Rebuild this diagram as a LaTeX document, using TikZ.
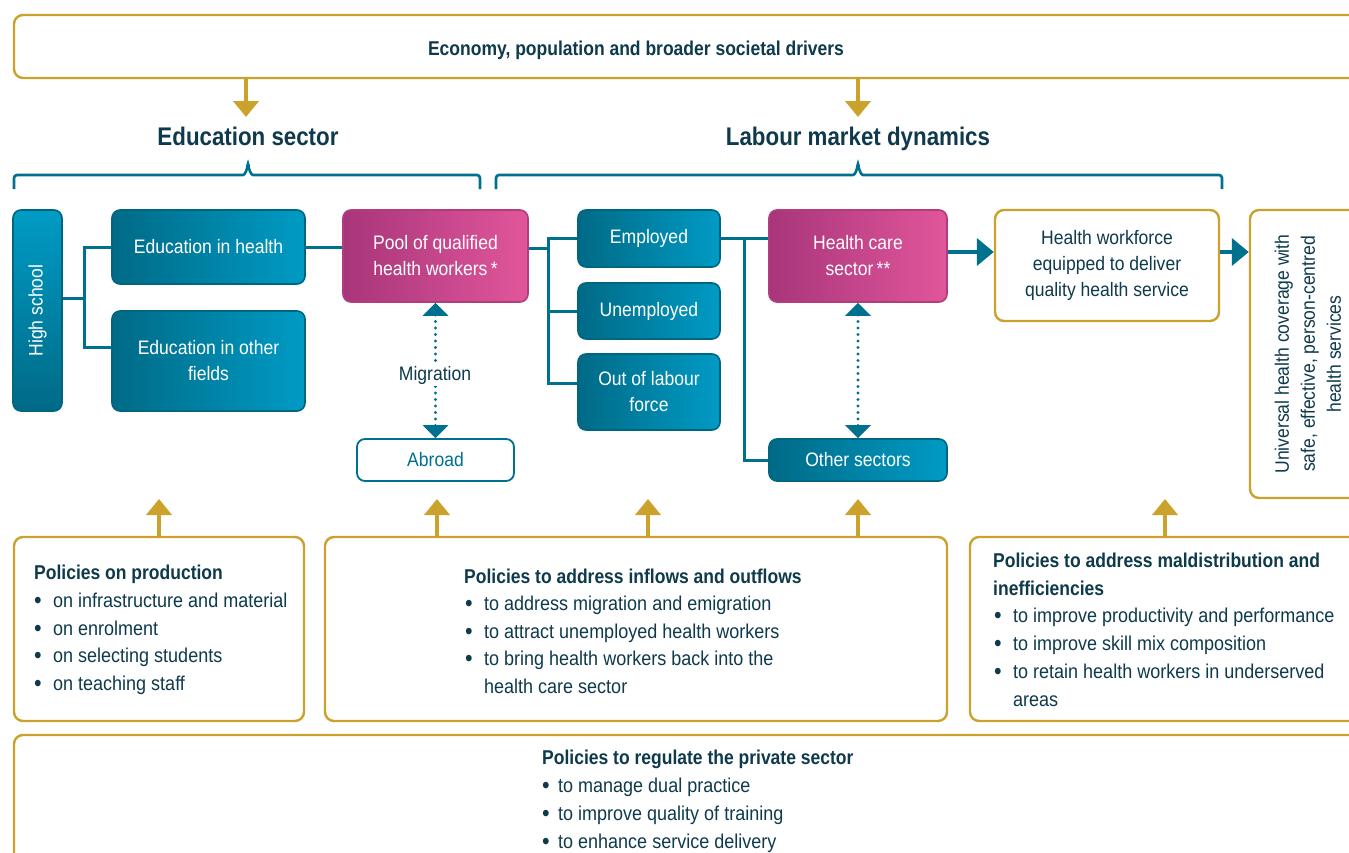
\documentclass[tikz,border=0pt]{standalone}
\usepackage{fontspec}
\setmainfont{Liberation Sans}[FakeStretch=0.9, BoldFeatures={FakeStretch=0.875}]
\usetikzlibrary{arrows.meta}
\definecolor{tealL}{HTML}{00708F}
\definecolor{tealA}{HTML}{006A86}
\definecolor{tealC}{HTML}{009BC5}
\definecolor{tealB}{HTML}{006580}
\definecolor{magA}{HTML}{A8357A}
\definecolor{magC}{HTML}{E1569B}
\definecolor{magB}{HTML}{B13D80}
\definecolor{gold}{HTML}{CBA22B}
\definecolor{dark}{HTML}{0E3A4C}
\newcommand\bxf{\fontsize{19.5}{26}\selectfont}
\newcommand\txf{\fontsize{20}{24}\selectfont}
\newcommand\itm{\makebox[19pt][l]{\raisebox{-1.3pt}{\scalebox{1.2}{•}}}}
\newcommand\itn{\makebox[19pt][l]{}}
\newcommand\itp{\makebox[16pt][l]{\raisebox{-1.3pt}{\scalebox{1.2}{•}}}}
\begin{document}
\begin{tikzpicture}[x=1pt,y=-1pt,
  tealbox/.style={draw=tealB, line width=1.6pt, rounded corners=8pt, left color=tealA, right color=tealC, text=white, font=\bxf, align=center, inner sep=0pt},
  magbox/.style={draw=magB, line width=1.6pt, rounded corners=8pt, left color=magA, right color=magC, text=white, font=\bxf, align=center, inner sep=0pt},
  whitebox/.style={draw=tealL, line width=1.8pt, rounded corners=8pt, fill=white, text=tealL, font=\bxf, align=center, inner sep=0pt},
  goldbox/.style={draw=gold, line width=2.4pt, rounded corners=9pt, fill=white, text=dark, font=\bxf, align=center, inner sep=0pt},
  conn/.style={draw=tealL, line width=3pt},
  garrow/.style={draw=gold, line width=4.5pt, -{Triangle[length=16pt,width=25pt]}},
  tarrow/.style={draw=tealL, line width=4pt, -{Triangle[length=17pt,width=27pt]}},
  dotarr/.style={draw=tealL, line width=3.2pt, dash pattern=on 0pt off 6.5pt, line cap=round, {Triangle[length=13pt,width=25pt]}-{Triangle[length=13pt,width=25pt]}},
  brace/.style={draw=tealL, line width=2.6pt, rounded corners=3pt},
  txt/.style={text=dark, font=\txf, anchor=base west, inner sep=0pt},
  ttl/.style={text=dark, font=\txf\bfseries, anchor=base west, inner sep=0pt},
  head/.style={text=dark, font=\fontsize{25.5}{28}\selectfont\bfseries, inner sep=0pt, anchor=base}
]
\useasboundingbox (0,0) rectangle (1349,852);
\clip (0,0) rectangle (1349,852);
\fill[white] (0,0) rectangle (1349,852);

% top drivers box
\node[goldbox, minimum width=1380pt, minimum height=63pt] (drivers) at (704,46.5) {};
\node[text=dark, font=\fontsize{20}{22}\selectfont\bfseries, inner sep=0pt, anchor=base] (driverst) at (636,55) {Economy, population and broader societal drivers};
\coordinate (edtip) at (246,117);
\coordinate (lbtip) at (858,117);
\draw[garrow] (drivers.south -| edtip) -- (edtip);
\draw[garrow] (drivers.south -| lbtip) -- (lbtip);
\node[head] (edh) at (248,145) {Education sector};
\node[head] (lbh) at (858,145) {Labour market dynamics};

% braces
\draw[brace] (14,189) -- (14,175) -- (240,175) .. controls (245,175) and (247,170) .. (248,162) .. controls (249,170) and (251,175) .. (256,175) -- (480,175) -- (480,189);
\draw[brace] (496,189) -- (496,175) -- (850,175) .. controls (855,175) and (857,170) .. (858,162) .. controls (859,170) and (861,175) .. (866,175) -- (1222,175) -- (1222,189);

% education boxes
\node[tealbox, minimum width=49pt, minimum height=201pt, top color=tealC, bottom color=tealA, shading angle=0] (hs) at (37.5,310.5) {};
\node[rotate=90, text=white, font=\bxf, inner sep=0pt] (hst) at (hs.center) {High school};
\node[tealbox, minimum width=193pt, minimum height=74pt] (eh) at (208.5,247) {Education in health};
\node[tealbox, minimum width=193pt, minimum height=100pt] (eo) at (208.5,361) {Education in other\\fields};
\node[magbox, minimum width=185pt, minimum height=92pt] (pool) at (435.5,256) {Pool of qualified\\health workers\,*};
\node[whitebox, minimum width=157pt, minimum height=42pt] (abroad) at (435.5,460) {Abroad};

% labour boxes
\node[tealbox, minimum width=142pt, minimum height=57pt] (emp) at (649,238.5) {Employed};
\node[tealbox, minimum width=142pt, minimum height=56pt] (unemp) at (649,311) {Unemployed};
\node[tealbox, minimum width=142pt, minimum height=76pt] (out) at (649,392) {Out of labour\\force};
\node[magbox, minimum width=178pt, minimum height=92pt] (hcs) at (858,256) {Health care\\sector\,**};
\node[tealbox, minimum width=178pt, minimum height=42pt] (other) at (858,460) {Other sectors};
\node[goldbox, minimum width=224pt, minimum height=111pt] (hw) at (1107,265.5) {Health workforce\\equipped to deliver\\quality health service};
\node[goldbox, minimum width=130pt, minimum height=288pt] (uhc) at (1315,354) {};
\node[rotate=90, text=dark, font=\bxf, align=center, inner sep=0pt] (uhct) at (1308,354) {Universal health coverage with\\safe, effective, person-centred\\health services};

% connectors education
\coordinate (j1) at (84,298);
\draw[conn] (hs.east |- j1) -- (j1);
\draw[conn] (eh.west) -| (j1) |- ([yshift=14pt]eo.west);
\draw[conn] (eh.east) -- (pool.west |- eh.east);
% connectors labour
\coordinate (j2) at (548,248);
\draw[conn] (pool.east |- j2) -- (j2);
\draw[conn] (emp.west) -| (j2) |- ([yshift=9pt]out.west);
\draw[conn] (unemp.west) -- (unemp.west -| j2);
\coordinate (j3) at (744,238.5);
\draw[conn] (emp.east) -- (hcs.west |- emp.east);
\draw[conn] (j3) |- (other.west);
% arrows
\draw[tarrow] ([yshift=4pt]hcs.east) -- ([yshift=4pt]hcs.east -| hw.west);
\draw[tarrow] (hw.east |- 0,252) -- (uhc.west |- 0,252);
% migration
\draw[dotarr] (pool.south) -- (abroad.north);
\node[fill=white, text=dark, font=\bxf, inner sep=2pt] (mig) at (435,375) {Migration};
\draw[dotarr] (hcs.south) -- (other.north);

% policy boxes
\node[goldbox, minimum width=290pt, minimum height=184pt] (p1) at (159,629) {};
\node[goldbox, minimum width=622pt, minimum height=184pt] (p2) at (636,629) {};
\node[goldbox, minimum width=420pt, minimum height=184pt] (p3) at (1180,629) {};
\node[goldbox, minimum width=1380pt, minimum height=150pt] (p4) at (704,810) {};

\coordinate (u1) at (159,499);
\coordinate (u2) at (437,499);
\coordinate (u3) at (648,499);
\coordinate (u4) at (858,499);
\coordinate (u5) at (1165,499);
\draw[garrow] (p1.north) -- (u1);
\draw[garrow] (p2.north -| u2) -- (u2);
\draw[garrow] (p2.north -| u3) -- (u3);
\draw[garrow] (p2.north -| u4) -- (u4);
\draw[garrow] (p3.north -| u5) -- (u5);

% policy texts
\node[ttl] (t1) at (34,579) {Policies on production};
\node[txt] (t1a) at (34,607) {\itm on infrastructure and material};
\node[txt] (t1b) at (34,635) {\itm on enrolment};
\node[txt] (t1c) at (34,662) {\itm on selecting students};
\node[txt] (t1d) at (34,690) {\itm on teaching staff};

\node[ttl] (t2) at (464,583) {Policies to address inflows and outflows};
\node[txt] (t2a) at (465,610) {\itm to address migration and emigration};
\node[txt] (t2b) at (465,638) {\itm to attract unemployed health workers};
\node[txt] (t2c) at (465,665) {\itm to bring health workers back into the};
\node[txt] (t2d) at (465,693) {\itn health care sector};

\node[ttl] (t3) at (993,567) {Policies to address maldistribution and};
\node[ttl] (t3b) at (993,595) {inefficiencies};
\node[txt] (t3c) at (994,622) {\itm to improve productivity and performance};
\node[txt] (t3d) at (994,650) {\itm to improve skill mix composition};
\node[txt] (t3e) at (994,678) {\itm to retain health workers in underserved};
\node[txt] (t3f) at (994,706) {\itn areas};

\node[ttl] (t4) at (542,764) {Policies to regulate the private sector};
\node[txt] (t4a) at (542,792) {\itp to manage dual practice};
\node[txt] (t4b) at (542,820) {\itp to improve quality of training};
\node[txt] (t4c) at (542,848) {\itp to enhance service delivery};
\end{tikzpicture}
\end{document}
